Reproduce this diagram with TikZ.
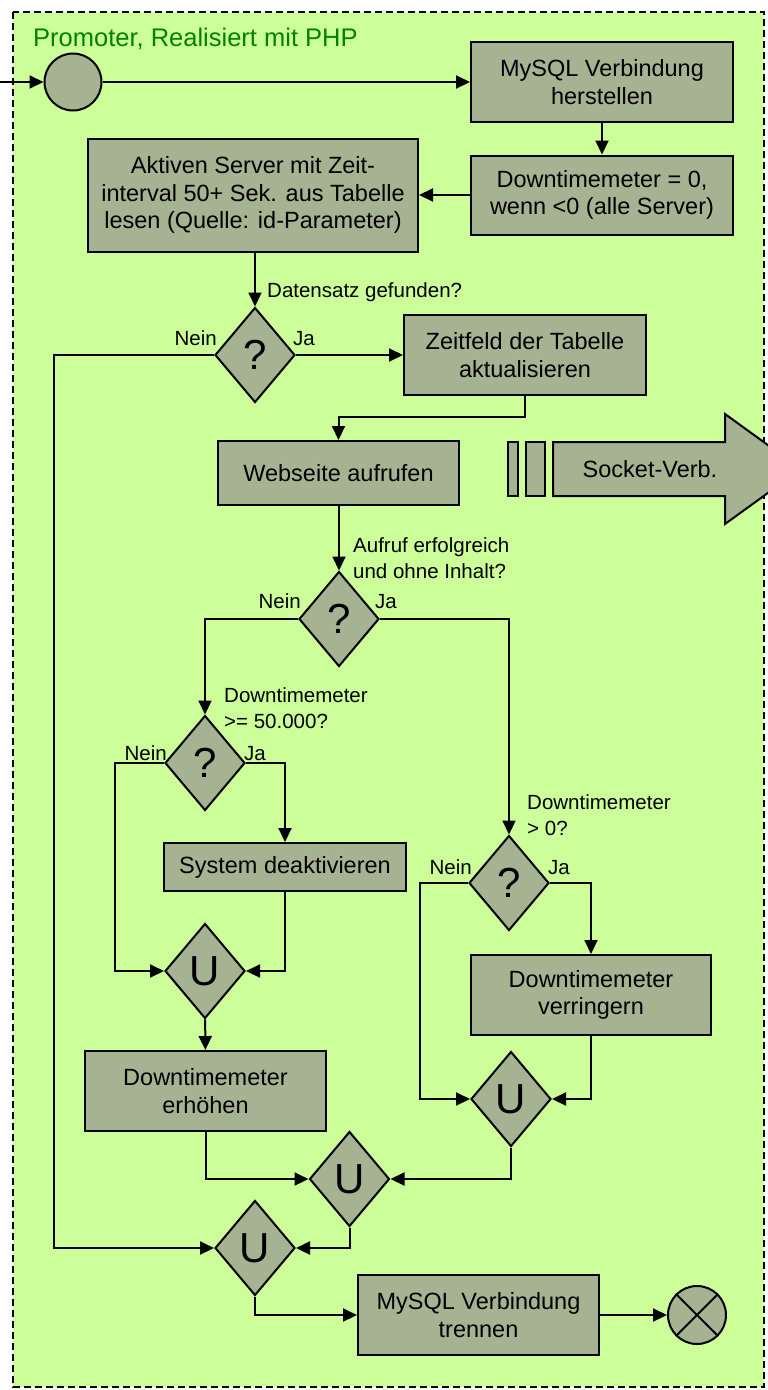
\documentclass[tikz,border=0pt]{standalone}
\usepackage{fontspec}
\setmainfont{Liberation Sans}
\usetikzlibrary{shapes.geometric,arrows.meta}
\definecolor{hellgruen}{RGB}{204,255,153}
\definecolor{grau}{RGB}{166,179,146}
\definecolor{titelgruen}{RGB}{0,130,0}

\begin{document}
\begin{tikzpicture}[x=1pt,y=-1pt,
  box/.style={draw, line width=2pt, fill=grau, inner sep=0pt, align=center, font=\fontsize{23.5}{27.5}\selectfont},
  frage/.style={diamond, draw, line width=2pt, fill=grau, inner sep=0pt, minimum width=80pt, minimum height=95pt, font=\fontsize{42}{42}\selectfont},
  punkt/.style={circle, draw, line width=2pt, fill=grau, inner sep=0pt},
  flow/.style={line width=2pt, -{Triangle[length=14pt,width=13pt]}},
  klein/.style={inner sep=0pt, align=left, font=\fontsize{20.5}{25.5}\selectfont}]
	\useasboundingbox (0,0) rectangle (768,1390);
	\fill[white] (0,0) rectangle (768,1390);
	\draw[fill=hellgruen, line width=1.8pt, dash pattern=on 7pt off 4pt] (13,12) rectangle (764,1387);
	\node[anchor=base west, inner sep=0pt, text=titelgruen, font=\fontsize{25.5}{30}\selectfont] (titel) at (33,46) {Promoter, Realisiert mit PHP};

	\node[punkt, minimum size=57pt] (start) at (73,82) {};
	\node[box, minimum width=262pt, minimum height=80pt] (verbinden) at (602,82) {MySQL Verbindung\\herstellen};
	\node[box, minimum width=262pt, minimum height=79pt] (reset) at (602,195) {Downtimemeter = 0,\\wenn <0 (alle Server)};
	\node[box, minimum width=330pt, minimum height=113pt] (lesen) at (253,195) {Aktiven Server mit Zeit-\\interval 50+ Sek. aus Tabelle\\lesen (Quelle: id-Parameter)};
	\node[frage] (q1) at (255,355) {?};
	\node[box, minimum width=242pt, minimum height=80pt] (zeitfeld) at (525,355) {Zeitfeld der Tabelle\\aktualisieren};
	\node[box, minimum width=241pt, minimum height=64pt] (aufruf) at (338.5,473) {Webseite aufrufen};
	\node[box, minimum width=10pt, minimum height=54pt] (balkenA) at (513,469) {};
	\node[box, minimum width=19pt, minimum height=54pt] (balkenB) at (535.5,469) {};
	\draw[line width=2pt, fill=grau] (553,442) -- (725,442) -- (725,414) -- (801,469) -- (725,524) -- (725,496) -- (553,496) -- cycle;
	\node[box, draw=none, fill=none] (socket) at (650,469) {Socket-Verb.};
	\node[frage] (q2) at (339,619) {?};
	\node[frage] (q3) at (205,763) {?};
	\node[frage] (q4) at (509,883) {?};
	\node[box, minimum width=242pt, minimum height=48pt] (deakt) at (285,867) {System deaktivieren};
	\node[frage] (u1) at (205,971) {U};
	\node[box, minimum width=241pt, minimum height=80pt] (erhoehen) at (205.5,1091) {Downtimemeter\\erhöhen};
	\node[box, minimum width=240pt, minimum height=80pt] (verringern) at (591,995) {Downtimemeter\\verringern};
	\node[frage] (u2) at (511,1099) {U};
	\node[frage] (u3) at (349.5,1179) {U};
	\node[frage] (u4) at (255,1248) {U};
	\node[box, minimum width=241pt, minimum height=80pt] (trennen) at (478.5,1315) {MySQL Verbindung\\trennen};
	\node[punkt, minimum size=58pt] (ende) at (697,1315) {};
	\draw[line width=2pt] (ende.45) -- (ende.225) (ende.135) -- (ende.315);

	\coordinate (eingang) at (0,82);
	\draw[flow] (eingang) -- (start);
	\draw[flow] (start) -- (verbinden);
	\draw[flow] (verbinden) -- (reset);
	\draw[flow] (reset) -- (lesen);
	\draw[flow] (q1 |- lesen.south) -- (q1);
	\draw[flow] (q1.west) -- ++(-160,0) |- (u4.west);
	\draw[flow] (q1) -- (zeitfeld);
	\draw[flow] (zeitfeld.south) -- ++(0,21) -| (aufruf.north);
	\draw[flow] (q2 |- aufruf.south) -- (q2);
	\draw[flow] (q2.west) -| (q3.north);
	\draw[flow] (q2.east) -| (q4.north);
	\draw[flow] (q3.west) -- ++(-49,0) |- (u1.west);
	\draw[flow] (q3.east) -| (deakt.north);
	\draw[flow] (deakt.south) |- (u1.east);
	\draw[flow] (u1) -- (erhoehen);
	\draw[flow] (erhoehen.south) |- (u3.west);
	\draw[flow] (q4.west) -- ++(-48,0) |- (u2.west);
	\draw[flow] (q4.east) -| (verringern.north);
	\draw[flow] (verringern.south) |- (u2.east);
	\draw[flow] (u2.south) |- (u3.east);
	\draw[flow] (u3.south) |- (u4.east);
	\draw[flow] (u4.south) |- (trennen.west);
	\draw[flow] (trennen) -- (ende);

	\node[klein, anchor=base west] (frageA) at (267,297) {Datensatz gefunden?};
	\node[klein, anchor=base west] (frageB) at (353,578) {Aufruf erfolgreich\\und ohne Inhalt?};
	\node[klein, anchor=base west] (frageC) at (224,728) {Downtimemeter\\>= 50.000?};
	\node[klein, anchor=base west] (frageD) at (527,835) {Downtimemeter\\> 0?};
	\node[klein, anchor=base east] (neinA) at ([shift={(3,-10)}]q1.west) {Nein};
	\node[klein, anchor=base west] (jaA) at ([shift={(-3,-10)}]q1.east) {Ja};
	\node[klein, anchor=base east] (neinB) at ([shift={(3,-11)}]q2.west) {Nein};
	\node[klein, anchor=base west] (jaB) at ([shift={(-5,-11)}]q2.east) {Ja};
	\node[klein, anchor=base east] (neinC) at ([shift={(3,-3)}]q3.west) {Nein};
	\node[klein, anchor=base west] (jaC) at ([shift={(-2,-3)}]q3.east) {Ja};
	\node[klein, anchor=base east] (neinD) at ([shift={(4,-9)}]q4.west) {Nein};
	\node[klein, anchor=base west] (jaD) at ([shift={(-2,-9)}]q4.east) {Ja};
\end{tikzpicture}
\end{document}
